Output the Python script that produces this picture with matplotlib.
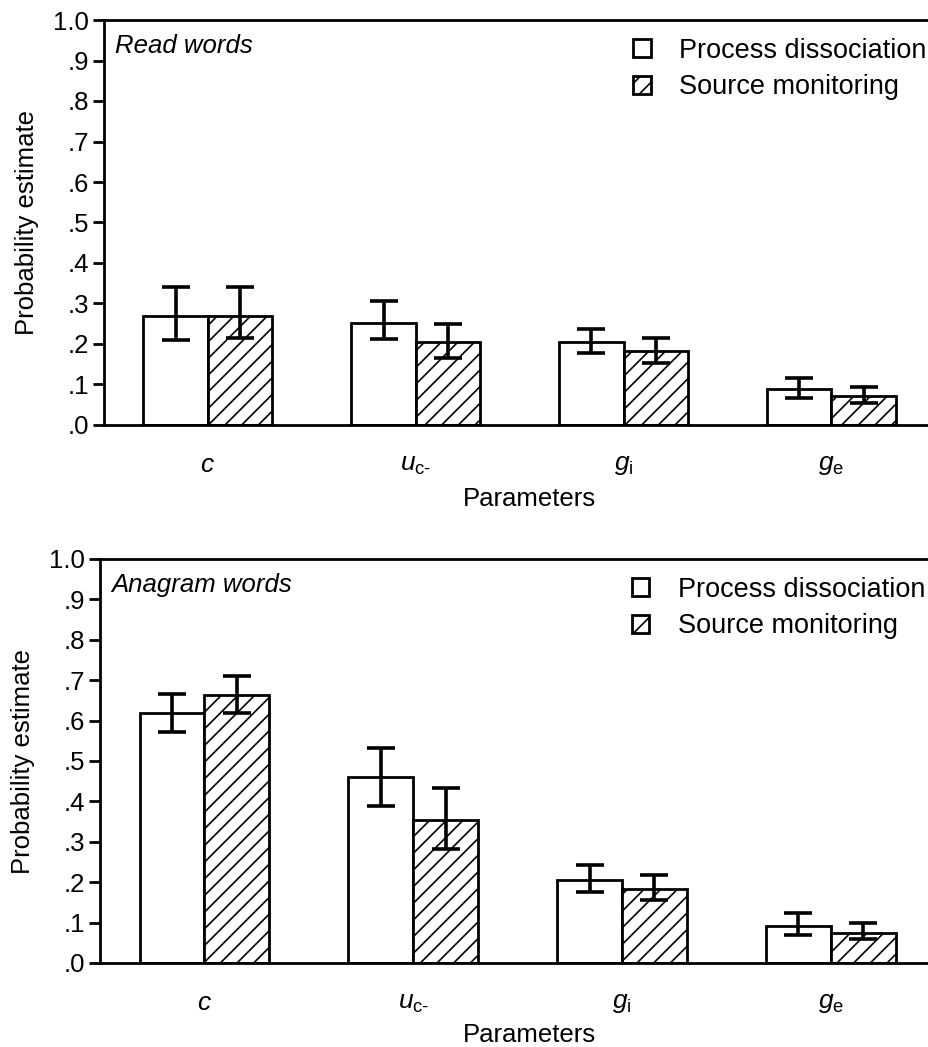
import numpy as np
import matplotlib.pyplot as plt
from matplotlib.patches import Patch

plt.rcParams['font.family'] = ['Liberation Sans', 'DejaVu Sans']
plt.rcParams['mathtext.fontset'] = 'custom'
plt.rcParams['mathtext.rm'] = 'Liberation Sans'
plt.rcParams['mathtext.it'] = 'Liberation Sans:italic'
plt.rcParams['hatch.linewidth'] = 1.2

params = [r'$c$', r'$u_{\mathrm{c}\text{-}}$', r'$g_{\mathrm{i}}$', r'$g_{\mathrm{e}}$']
series = ['Process dissociation', 'Source monitoring']
yticks = [0, .1, .2, .3, .4, .5, .6, .7, .8, .9, 1.0]
ytick_labels = ['.0', '.1', '.2', '.3', '.4', '.5', '.6', '.7', '.8', '.9', '1.0']

# Read words
read_pd = [0.270, 0.253, 0.204, 0.088]
read_pd_lo = [0.210, 0.213, 0.177, 0.066]
read_pd_hi = [0.340, 0.305, 0.238, 0.116]
read_sm = [0.270, 0.204, 0.182, 0.071]
read_sm_lo = [0.215, 0.165, 0.153, 0.054]
read_sm_hi = [0.340, 0.250, 0.216, 0.094]

# Anagram words
anag_pd = [0.619, 0.460, 0.205, 0.092]
anag_pd_lo = [0.572, 0.389, 0.176, 0.069]
anag_pd_hi = [0.666, 0.532, 0.243, 0.124]
anag_sm = [0.663, 0.354, 0.183, 0.074]
anag_sm_lo = [0.619, 0.282, 0.156, 0.059]
anag_sm_hi = [0.710, 0.433, 0.218, 0.099]

W, H = 929, 1047
fig = plt.figure(figsize=(W / 100, H / 100), dpi=100)


def panel(rect, title, pd, pd_lo, pd_hi, sm, sm_lo, sm_hi, xlab_y):
    ax = fig.add_axes(rect)
    x = np.arange(len(params))
    bw = 0.31
    pd = np.array(pd); sm = np.array(sm)
    ax.bar(x - bw / 2, pd, bw, color='white', edgecolor='black', linewidth=2, zorder=2)
    ax.bar(x + bw / 2, sm, bw, color='white', edgecolor='black', linewidth=2,
           hatch='//', zorder=2)
    ax.errorbar(x - bw / 2, pd, yerr=[pd - np.array(pd_lo), np.array(pd_hi) - pd],
                fmt='none', ecolor='black', elinewidth=2.6, capsize=10, capthick=2.6, zorder=3)
    ax.errorbar(x + bw / 2, sm, yerr=[sm - np.array(sm_lo), np.array(sm_hi) - sm],
                fmt='none', ecolor='black', elinewidth=2.6, capsize=10, capthick=2.6, zorder=3)
    ax.set_xlim(-0.5, 3.47)
    ax.set_ylim(0, 1.0)
    ax.set_yticks(yticks)
    ax.set_yticklabels(ytick_labels, fontsize=18.5)
    ax.set_xticks(x)
    ax.set_xticklabels(params, fontsize=19)
    ax.tick_params(axis='x', length=0, pad=20)
    ax.tick_params(axis='y', length=8, width=2, direction='out', pad=3)
    for s in ['left', 'top', 'bottom']:
        ax.spines[s].set_linewidth(2)
    ax.spines['right'].set_visible(False)
    ax.set_ylabel('Probability estimate', fontsize=18.5, labelpad=10)
    fig.text(529 / W, 1 - xlab_y / H, 'Parameters', fontsize=18.5, ha='center', va='center')
    ax.text(0.013, 0.965, title, transform=ax.transAxes, fontsize=18.5,
            style='italic', ha='left', va='top')
    handles = [Patch(facecolor='white', edgecolor='black', linewidth=2),
               Patch(facecolor='white', edgecolor='black', linewidth=2, hatch='//')]
    ax.legend(handles, series, loc='upper left', bbox_to_anchor=(0.62, 1.0),
              frameon=False, fontsize=19.5, handlelength=0.65, handleheight=0.65,
              handletextpad=1.05, labelspacing=0.4, borderpad=0.15)
    return ax


panel([104 / W, 1 - 425 / H, (W - 104) / W, 405 / H], 'Read words',
      read_pd, read_pd_lo, read_pd_hi, read_sm, read_sm_lo, read_sm_hi, 499)
panel([100 / W, 1 - 963 / H, (W - 100) / W, 404 / H], 'Anagram words',
      anag_pd, anag_pd_lo, anag_pd_hi, anag_sm, anag_sm_lo, anag_sm_hi, 1035)

fig.savefig('out.png', dpi=100)
